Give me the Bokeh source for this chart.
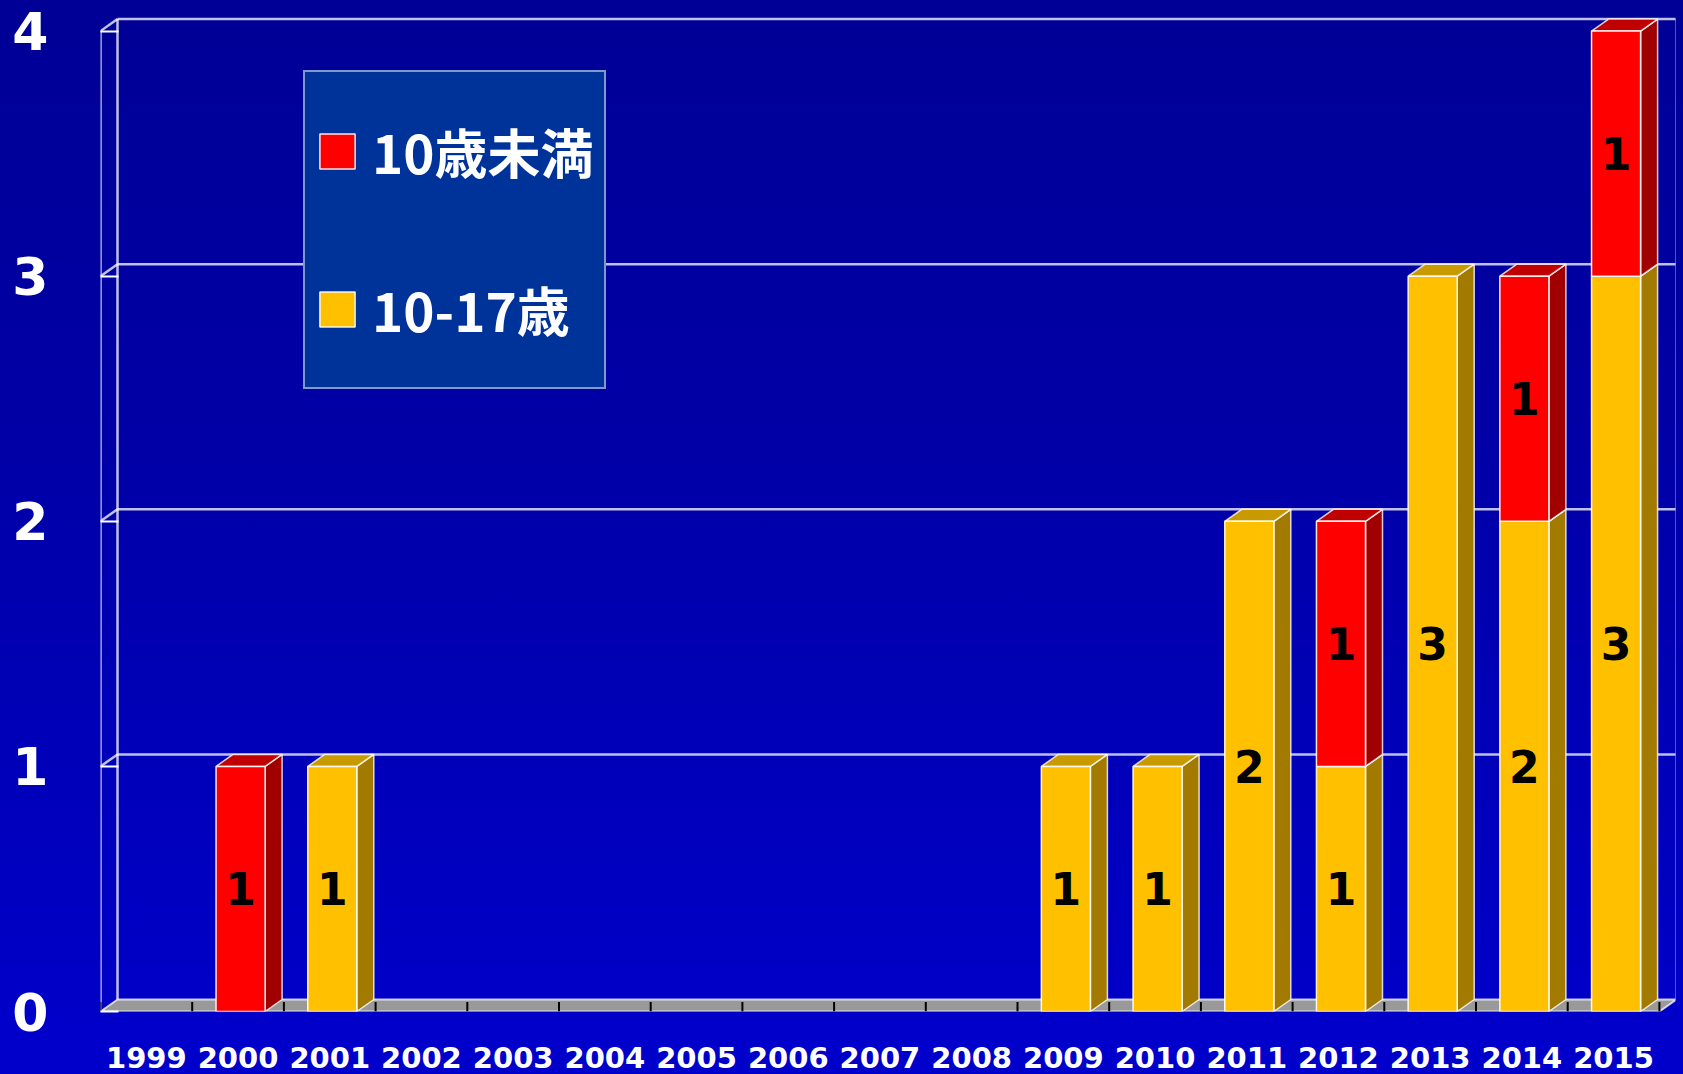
from bokeh.plotting import figure
from bokeh.models import Range1d, FixedTicker, Legend, LegendItem
from bokeh.core.properties import value
from bokeh.embed import file_html
from bokeh.resources import INLINE

# ---- data ----
years = [1999, 2000, 2001, 2002, 2003, 2004, 2005, 2006, 2007, 2008,
         2009, 2010, 2011, 2012, 2013, 2014, 2015]
under10 = [0, 1, 0, 0, 0, 0, 0, 0, 0, 0, 0, 0, 0, 1, 0, 1, 1]   # 10歳未満 (red, top)
teen = [0, 0, 1, 0, 0, 0, 0, 0, 0, 0, 1, 1, 2, 1, 3, 2, 3]      # 10-17歳 (yellow, bottom)
series_names = ["10歳未満", "10-17歳"]
y_ticks = [0, 1, 2, 3, 4]

# ---- geometry / style ----
W, H = 1683, 1074
LEFT, RIGHT, TOP, BOTTOM = 100, 8, 0, 63
PX_X = 91.7
PX_Y = 245.1
DX = 17 / PX_X
DY = 12 / PX_Y
BL, BR = -0.24, 0.295
n = len(years)
x0, x1 = -0.5, n - 0.5
GRID = "#FFFFFF"
GA = 0.75

p = figure(width=W, height=H, output_backend="svg", toolbar_location=None,
           min_border_left=LEFT, min_border_right=RIGHT, min_border_top=TOP,
           min_border_bottom=BOTTOM,
           x_range=Range1d(x0, x0 + (W - LEFT - RIGHT) / PX_X),
           y_range=Range1d(0, (H - TOP - BOTTOM) / PX_Y))
p.styles = {"background": "linear-gradient(to bottom, #000096 0%, #0000A6 40%, #0000CC 100%)"}
p.background_fill_alpha = 0
p.border_fill_alpha = 0
p.outline_line_color = None
p.grid.visible = False

# floor
p.patch([x0, x0 + DX, x1 + DX, x1], [0, DY, DY, 0], fill_color="#999999",
        line_color=GRID, line_alpha=GA, line_width=2)
# back wall gridlines
for v in y_ticks[1:]:
    p.line([x0 + DX, x1 + DX], [v + DY, v + DY], line_color=GRID, line_alpha=GA, line_width=2.5)
    p.line([x0, x0 + DX], [v, v + DY], line_color=GRID, line_alpha=GA, line_width=2.5)
# wall verticals
p.line([x0 + DX, x0 + DX], [DY, y_ticks[-1] + DY], line_color=GRID, line_alpha=GA, line_width=2.5)
p.line([x1 + DX, x1 + DX], [DY, y_ticks[-1] + DY], line_color=GRID, line_alpha=GA, line_width=2.5)
p.line([x0, x0], [0, y_ticks[-1]], line_color=GRID, line_alpha=GA, line_width=2.5)
# floor ticks
p.segment(x0=[x0 + k for k in range(n + 1)], y0=[0] * (n + 1),
          x1=[x0 + k for k in range(n + 1)], y1=[DY * 0.8] * (n + 1),
          line_color="black", line_width=2)


def draw_series(vals, bases, front, side, top):
    lefts, rights, bots, tops = [], [], [], []
    sxs, sys_, txs, tys = [], [], [], []
    lx, ly, lt = [], [], []
    for i, (v, b) in enumerate(zip(vals, bases)):
        if v <= 0:
            continue
        t = b + v
        lefts.append(i + BL); rights.append(i + BR); bots.append(b); tops.append(t)
        sxs.append([i + BR, i + BR + DX, i + BR + DX, i + BR])
        sys_.append([b, b + DY, t + DY, t])
        txs.append([i + BL, i + BL + DX, i + BR + DX, i + BR])
        tys.append([t, t + DY, t + DY, t])
        lx.append(i + (BL + BR) / 2); ly.append(b + v / 2); lt.append(str(v))
    p.patches(sxs, sys_, fill_color=side, line_color="white", line_alpha=0.8, line_width=1.5)
    p.patches(txs, tys, fill_color=top, line_color="white", line_alpha=0.8, line_width=1.5)
    r = p.quad(left=lefts, right=rights, bottom=bots, top=tops, fill_color=front,
               line_color="white", line_alpha=0.9, line_width=1.5)
    p.text(x=lx, y=ly, text=lt, text_color="black", text_font=value("DejaVu Sans"),
           text_font_style="bold", text_font_size="44px", text_align="center",
           text_baseline="middle")
    return r


r_teen = draw_series(teen, [0] * n, "#FFC000", "#A37A00", "#C99A00")
r_u10 = draw_series(under10, teen, "#FF0000", "#A00000", "#C00000")

# axes
ya = p.yaxis[0]
ya.ticker = FixedTicker(ticks=y_ticks)
ya.bounds = (0, y_ticks[-1])
ya.axis_line_color = None
ya.major_tick_in = 18
ya.major_tick_out = 0
ya.major_tick_line_color = "white"
ya.major_tick_line_width = 2
ya.minor_tick_line_color = None
ya.major_label_standoff = 52
ya.major_label_text_color = "white"
ya.major_label_text_font = "DejaVu Sans"
ya.major_label_text_font_style = "bold"
ya.major_label_text_font_size = "52px"

xa = p.xaxis[0]
xa.ticker = FixedTicker(ticks=list(range(n)))
xa.major_label_overrides = {i: str(y) for i, y in enumerate(years)}
xa.axis_line_color = None
xa.major_tick_line_color = None
xa.minor_tick_line_color = None
xa.major_label_standoff = 29
xa.major_label_text_color = "white"
xa.major_label_text_font = "DejaVu Sans"
xa.major_label_text_font_style = "bold"
xa.major_label_text_font_size = "29px"

legend = Legend(items=[LegendItem(label=series_names[0], renderers=[r_u10]),
                       LegendItem(label=series_names[1], renderers=[r_teen])],
                location=(203, 622), orientation="vertical",
                background_fill_color="#003399", background_fill_alpha=1,
                border_line_color="white", border_line_width=2,
                label_text_color="white", label_text_font="Noto Sans CJK JP",
                label_text_font_style="bold", label_text_font_size="53px",
                glyph_width=44, glyph_height=44, label_height=137,
                label_standoff=13, padding=10, spacing=21, margin=0)
p.add_layout(legend, "center")

open("out.html", "w").write(file_html(p, INLINE))
